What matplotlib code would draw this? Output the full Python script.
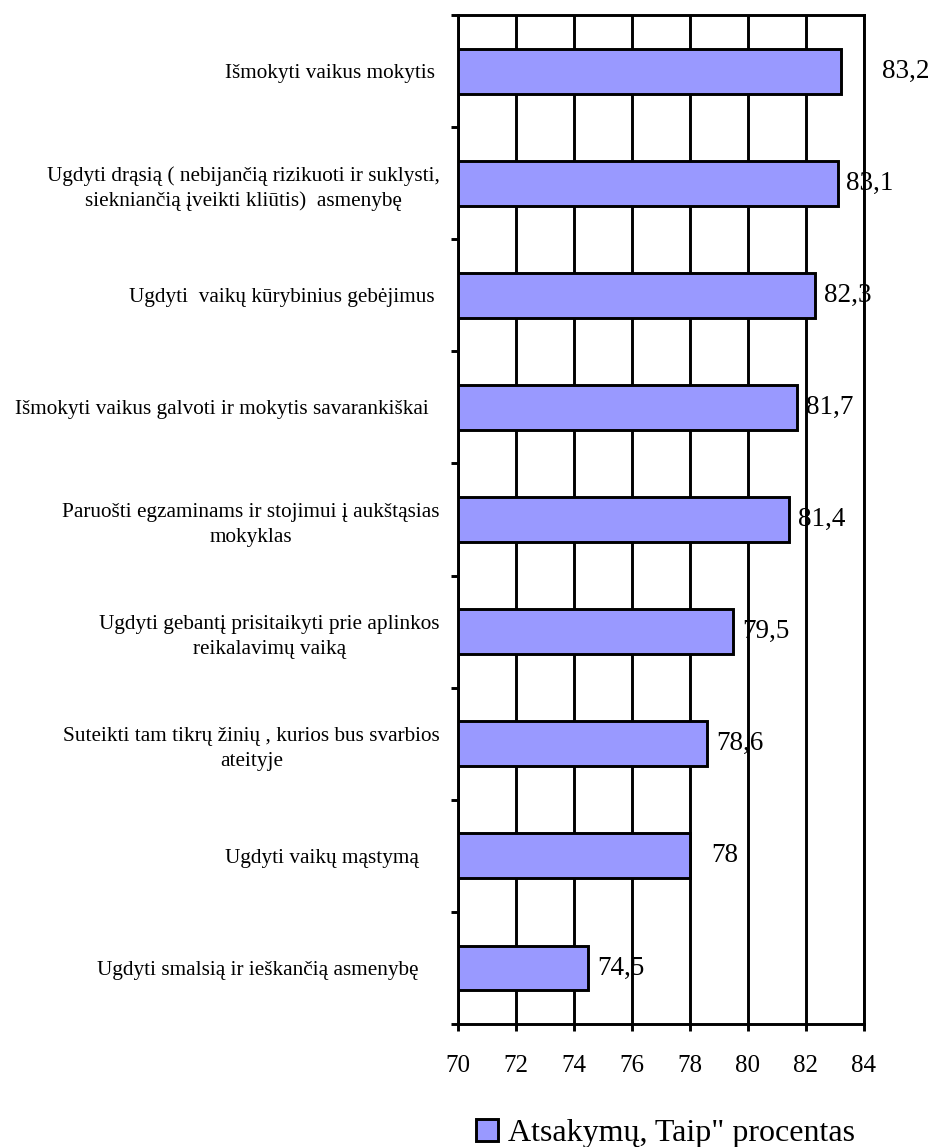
import matplotlib
matplotlib.use('Agg')

import numpy as np
import matplotlib.pyplot as plt
from matplotlib.patches import Patch

# Chart data (top to bottom)
categories = [
    "Išmokyti vaikus mokytis ",
    "Ugdyti drąsią ( nebijančią rizikuoti ir suklysti,\nsiekniančią įveikti kliūtis)  asmenybę",
    "Ugdyti  vaikų kūrybinius gebėjimus ",
    "Išmokyti vaikus galvoti ir mokytis savarankiškai  ",
    "Paruošti egzaminams ir stojimui į aukštąsias\nmokyklas",
    "Ugdyti gebantį prisitaikyti prie aplinkos\nreikalavimų vaiką",
    "Suteikti tam tikrų žinių , kurios bus svarbios\nateityje",
    "Ugdyti vaikų mąstymą    ",
    "Ugdyti smalsią ir ieškančią asmenybę    ",
]
values = [83.2, 83.1, 82.3, 81.7, 81.4, 79.5, 78.6, 78, 74.5]
value_labels = ["83,2", "83,1", "82,3", "81,7", "81,4", "79,5", "78,6", "78", "74,5"]
x_ticks = [70, 72, 74, 76, 78, 80, 82, 84]
legend_label = 'Atsakymų, Taip" procentas'

# label offsets (points) as placed in the original
label_dx = [30, 6, 6.5, 6.5, 6.5, 6.5, 6.5, 15, 6.5]

plt.rcParams['font.family'] = ['Liberation Serif', 'DejaVu Serif']

bar_color = '#9999FF'
lw = 2.1

fig = plt.figure(figsize=(9.33, 11.47), dpi=100)
ax = fig.add_axes([0.4909, 0.1072, 0.4351, 0.8797])

y = np.arange(len(categories))
ax.barh(y, [v - 70 for v in values], left=70, height=0.4, color=bar_color,
        edgecolor='black', linewidth=lw, zorder=3)

ax.set_xlim(70, 84)
ax.set_ylim(len(categories) - 0.5, -0.5)

ax.set_xticks(x_ticks)
ax.set_xticklabels([str(t) for t in x_ticks], fontsize=18)
ax.tick_params(axis='x', direction='out', length=5, width=lw, pad=17)
ax.xaxis.grid(True, color='black', linewidth=lw, zorder=0)
ax.set_axisbelow(True)

ax.set_yticks(y)
ax.set_yticklabels(categories, fontsize=15.3, ha='right', multialignment='center',
                   linespacing=1.4)
ax.tick_params(axis='y', which='major', length=0, pad=13)
ax.set_yticks(np.arange(-0.5, len(categories) + 0.5, 1), minor=True)
ax.tick_params(axis='y', which='minor', direction='out', length=5, width=lw)

for s in ax.spines.values():
    s.set_linewidth(lw)

for yi, v, lab, dx in zip(y, values, value_labels, label_dx):
    ax.annotate(lab, xy=(v, yi), xytext=(dx, 0), textcoords='offset points',
                ha='left', va='center', fontsize=19.5, annotation_clip=False, zorder=4)

handle = Patch(facecolor=bar_color, edgecolor='black', linewidth=lw)
fig.legend([handle], [legend_label], loc='center', bbox_to_anchor=(0.713, 0.012),
           frameon=False, fontsize=23, handlelength=0.7, handleheight=0.7,
           handletextpad=0.3, borderpad=0)

fig.savefig('out.png', dpi=100)
